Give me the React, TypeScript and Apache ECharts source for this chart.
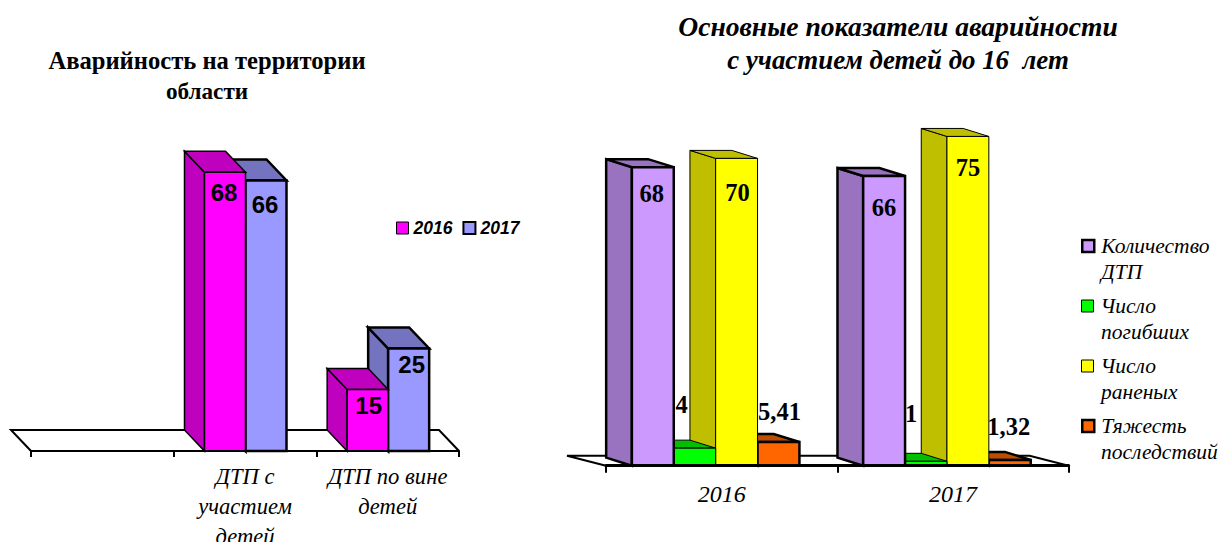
import React, { useEffect, useRef } from "react";
import * as echarts from "echarts";

const leftCategories = ["", "ДТП с\nучастием\nдетей", "ДТП по вине\nдетей"];
const left2016 = [null, 68, 15];
const left2017 = [null, 66, 25];
const leftNames = ["2016", "2017"];
const leftTitleLines = ["Аварийность на территории", "области"];

const rightCategories = ["2016", "2017"];
const accidents = [68, 66];
const killed = [4, 1];
const injured = [70, 75];
const severity = [5.41, 1.32];
const rightTitleLines = ["Основные показатели аварийности", "с участием детей до 16  лет"];
const rightFirstLines = ["Количество", "Число", "Число", "Тяжесть"];
const rightSecondLines = ["ДТП", "погибших", "раненых", "последствий"];
const rightNames = ["Количество ДТП", "Число погибших", "Число раненых", "Тяжесть последствий"];

const SERIF = "'Liberation Serif', serif";
const SANS = "'Liberation Sans', sans-serif";

type BarCfg = {
  index: number; count: number; ratio: number; shift: number; dx: number; dy: number;
  front: string; dark: string; lw: number; nudges: number[][]; font: any;
};

function bar3d(cfg: BarCfg) {
  return (params: any, api: any) => {
    const cat = api.value(0);
    const v = api.value(1);
    if (v == null || isNaN(v)) return null;
    const [cx, yTop] = api.coord([cat, v]);
    const [, yBase] = api.coord([cat, 0]);
    const band = api.size([1, 0])[0];
    const bw = band * cfg.ratio;
    const x0 = cx + cfg.shift + (cfg.index - cfg.count / 2) * bw;
    const { dx, dy, lw } = cfg;
    const stroke = { stroke: "#000", lineWidth: lw, lineJoin: "miter" };
    const nudge = cfg.nudges[params.dataIndex];
    return {
      type: "group",
      children: [
        {
          type: "polygon",
          shape: { points: [[x0, yBase], [x0, yTop], [x0 - dx, yTop - dy], [x0 - dx, yBase - dy]] },
          style: { fill: cfg.dark, ...stroke },
        },
        {
          type: "polygon",
          shape: { points: [[x0, yTop], [x0 + bw, yTop], [x0 + bw - dx, yTop - dy], [x0 - dx, yTop - dy]] },
          style: { fill: cfg.dark, ...stroke },
        },
        {
          type: "rect",
          shape: { x: x0, y: yTop, width: bw, height: yBase - yTop },
          style: { fill: cfg.front, ...stroke },
        },
        {
          type: "text",
          style: {
            text: String(v).replace(".", ","),
            x: x0 + bw / 2 + nudge[0],
            y: yTop + nudge[1],
            align: "center",
            verticalAlign: "middle",
            textAlign: "center",
            textVerticalAlign: "middle",
            fill: "#000",
            ...cfg.font,
          },
        },
      ],
    };
  };
}

function floor(backX: number, backY: number, lw: number) {
  return (params: any, _api: any) => {
    const cs = params.coordSys;
    const y = cs.y + cs.height;
    return {
      type: "polyline",
      shape: {
        points: [[cs.x, y], [cs.x - backX, y - backY], [cs.x + cs.width - backX, y - backY], [cs.x + cs.width, y]],
      },
      style: { fill: "#fff", stroke: "#000", lineWidth: lw },
    };
  };
}

export default function App() {
  const ref = useRef<HTMLDivElement>(null);
  useEffect(() => {
    const chart = echarts.init(ref.current!, undefined, { renderer: "svg" });

    const leftFont = { fontFamily: SANS, fontWeight: "bold", fontSize: 24 };
    const rightFont = { fontFamily: SERIF, fontWeight: "bold", fontSize: 24.5 };
    const common = { ratio: 0, shift: 0 };

    const leftStyles = [
      { front: "#FF00FF", dark: "#BF00BF", lw: 1.5, nudges: [[0, 0], [-1, 20], [1, 16]] },
      { front: "#9999FF", dark: "#7373BF", lw: 2.5, nudges: [[0, 0], [-1, 24], [3, 16]] },
    ];
    const rightStyles = [
      { front: "#CC99FF", dark: "#9973BF", lw: 2.5, nudges: [[-1, 26], [0, 32]] },
      { front: "#00FF00", dark: "#00BF00", lw: 1, nudges: [[-13, -44], [-15, -48]] },
      { front: "#FFFF00", dark: "#BFBF00", lw: 1, nudges: [[1, 34], [0, 31]] },
      { front: "#FF6600", dark: "#BF4D00", lw: 2.5, nudges: [[1, -30], [-1, -33]] },
    ];
    const leftValues = [left2016, left2017];
    const rightValues = [accidents, killed, injured, severity];

    const series: any[] = [
      {
        type: "custom", name: "floorL", xAxisIndex: 0, yAxisIndex: 0, z: 1, silent: true,
        data: [[0, 0]], renderItem: floor(20, 21, 2),
      },
      {
        type: "custom", name: "floorR", xAxisIndex: 1, yAxisIndex: 1, z: 1, silent: true,
        data: [[0, 0]], renderItem: floor(39, 10, 2),
      },
    ];
    leftNames.forEach((name, i) => {
      series.push({
        type: "custom", name, xAxisIndex: 0, yAxisIndex: 0, z: 5 - i,
        encode: { x: 0, y: 1 },
        itemStyle: { color: leftStyles[i].front },
        data: leftValues[i].map((v, c) => [c, v]),
        renderItem: bar3d({ ...common, ...leftStyles[i], index: i, count: 2, ratio: 0.2874, shift: 0.5, dx: 20, dy: 21, font: leftFont }),
      });
    });
    rightNames.forEach((name, i) => {
      series.push({
        type: "custom", name, xAxisIndex: 1, yAxisIndex: 1, z: 7 - i,
        encode: { x: 0, y: 1 },
        itemStyle: { color: rightStyles[i].front },
        data: rightValues[i].map((v, c) => [c, v]),
        renderItem: bar3d({ ...common, ...rightStyles[i], index: i, count: 4, ratio: 0.1811, shift: -6, dx: 25.7, dy: 8, font: rightFont }),
      });
    });

    const axisBase = (w: number, tick: number) => ({
      type: "category",
      z: 10,
      boundaryGap: true,
      axisLine: { show: true, lineStyle: { color: "#000", width: w } },
      axisTick: { show: true, alignWithLabel: false, length: tick, lineStyle: { color: "#000", width: 2 } },
    });

    const rightLegendRows = [247, 307, 367, 427];
    const leg = (name: string, color: string, lw: number, first: string, top: number) => ({
      left: 1081, top: top - 12, padding: 0, orient: "horizontal", selectedMode: false,
      itemWidth: 12, itemHeight: 12, itemGap: 0,
      data: [{ name, icon: "rect", itemStyle: { color, borderColor: "#000", borderWidth: lw } }],
      formatter: () => first,
      textStyle: { fontFamily: SERIF, fontStyle: "italic", fontSize: 21.5, color: "#000", padding: [0, 0, 0, 2] },
    });

    const titleLine = (text: string, left: number, top: number, fontSize: number, fontStyle: string) => ({
      text, left, top, textAlign: "center", padding: 0,
      textStyle: { fontFamily: SERIF, fontWeight: "bold", fontStyle, fontSize, color: "#000", lineHeight: 31 },
    });

    chart.setOption({
      animation: false,
      title: [
        titleLine(leftTitleLines[0], 207, 45, 24.6, "normal"),
        titleLine(leftTitleLines[1], 207, 75, 23.2, "normal"),
        titleLine(rightTitleLines[0], 898, 11, 27.6, "italic"),
        titleLine(rightTitleLines[1], 898, 44, 26.9, "italic"),
      ],
      legend: [
        {
          left: 396, top: 219, padding: 0, selectedMode: false, orient: "horizontal",
          itemWidth: 12, itemHeight: 12, itemGap: 10,
          data: leftNames.map((name, i) => ({
            name, icon: "rect",
            itemStyle: { color: leftStyles[i].front, borderColor: "#000", borderWidth: i === 0 ? 1 : 2 },
          })),
          textStyle: { fontFamily: SANS, fontWeight: "bold", fontStyle: "italic", fontSize: 17.5, color: "#000", padding: [0, 0, 0, 0] },
        },
        ...rightNames.map((n, i) => leg(n, rightStyles[i].front, rightStyles[i].lw, rightFirstLines[i], rightLegendRows[i])),
      ],
      graphic: rightSecondLines.map((t, i) => ({
        type: "text", x: 1101, y: rightLegendRows[i] + 25,
        style: { text: t, fontFamily: SERIF, fontStyle: "italic", fontSize: 21.5, fill: "#000", verticalAlign: "middle", textVerticalAlign: "middle" },
      })),
      grid: [
        { left: 31, top: 123, width: 428, height: 328, outerBoundsMode: "none" },
        { left: 606, top: 114.5, width: 462.6, height: 351.2, outerBoundsMode: "none" },
      ],
      xAxis: [
        {
          ...axisBase(2, 6), gridIndex: 0, data: leftCategories,
          axisLabel: { interval: 0, margin: 10, fontFamily: SERIF, fontStyle: "italic", fontSize: 22.6, lineHeight: 30, color: "#000", hideOverlap: false },
        },
        {
          ...axisBase(3, 7), gridIndex: 1, data: rightCategories,
          axisLabel: { interval: 0, margin: 16, fontFamily: SERIF, fontStyle: "italic", fontSize: 24, color: "#000" },
        },
      ],
      yAxis: [
        { type: "value", gridIndex: 0, min: 0, max: 80, show: false, splitLine: { show: false } },
        { type: "value", gridIndex: 1, min: 0, max: 80, show: false, splitLine: { show: false } },
      ],
      series,
    });
    return () => chart.dispose();
  }, []);
  return (
    <div
      ref={ref}
      style={{ position: "fixed", left: 0, top: 0, width: 1220, height: 542, background: "#fff", overflow: "hidden" }}
    />
  );
}
